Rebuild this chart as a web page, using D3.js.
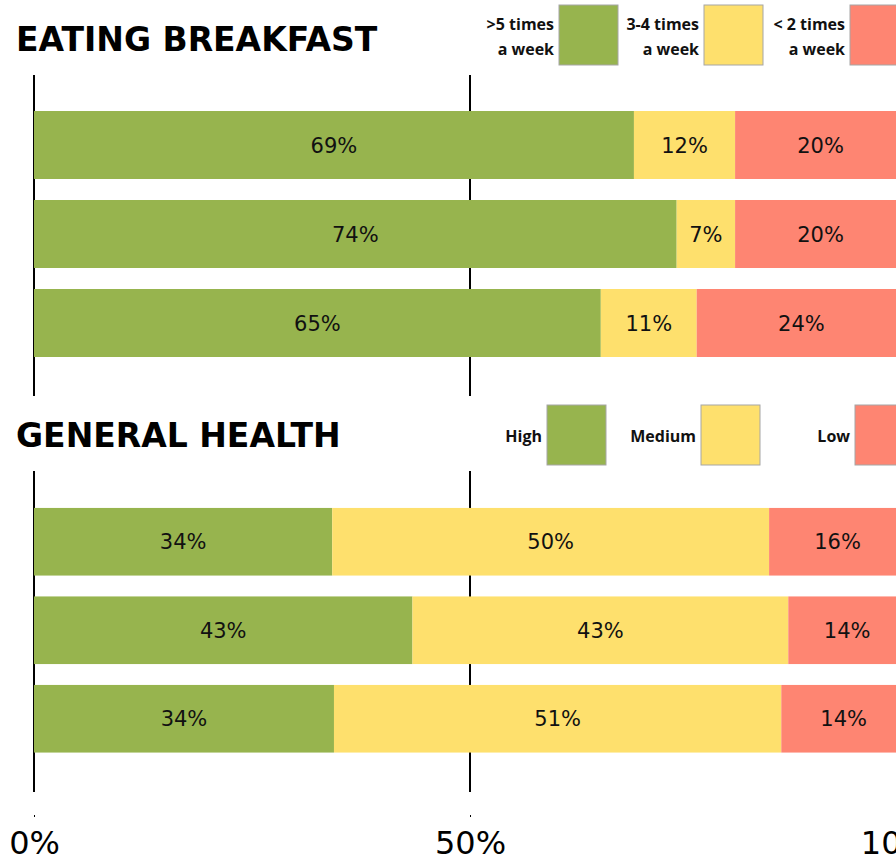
<!DOCTYPE html>
<html>
<head>
<meta charset="utf-8">
<script src="https://cdn.jsdelivr.net/npm/d3@7"></script>
<style>
  body { margin: 0; background: #fff; }
  #chart { width: 896px; height: 860px; overflow: hidden; }
</style>
</head>
<body>
<div id="chart"></div>
<script>
// categories and series (percent)
var colors = ["#97b44e", "#fee06d", "#fe8572"];

var breakfastKeys = [">5 times a week", "3-4 times a week", "< 2 times a week"];
var breakfastOften = [68.8, 73.7, 65.0];
var breakfastSome = [11.6, 6.7, 11.0];
var breakfastRare = [19.6, 19.6, 24.0];

var healthKeys = ["High", "Medium", "Low"];
var healthHigh = [34.2, 43.4, 34.4];
var healthMedium = [50.1, 43.1, 51.3];
var healthLow = [15.7, 13.5, 14.3];

var tickValues = [0, 50, 100];

var width = 896, height = 860;

var svg = d3.select("#chart").append("svg")
  .attr("width", width)
  .attr("height", height);

// 0% at x=34, 50% at x=470 -> 100% falls just past the right edge
var x = d3.scaleLinear().domain([0, 100]).range([34, 906]);

function section(opts){
  var rows = opts.series[0].map(function(_, i){
    return opts.series.map(function(s){ return s[i]; });
  });

  var y = d3.scaleBand()
    .domain(d3.range(rows.length))
    .range(opts.range)
    .paddingInner(21/89)
    .paddingOuter(21/89/2);

  var g = svg.append("g");

  // vertical reference lines at 0% and 50%
  g.selectAll("line.grid")
    .data(tickValues.slice(0, 2))
    .enter().append("line")
    .attr("x1", function(d){ return x(d); })
    .attr("x2", function(d){ return x(d); })
    .attr("y1", opts.lineTop)
    .attr("y2", opts.lineBottom)
    .attr("stroke", "#000")
    .attr("stroke-width", 2);

  var bars = g.selectAll("g.bar")
    .data(rows)
    .enter().append("g")
    .attr("transform", function(d, i){ return "translate(0," + y(i) + ")"; });

  bars.each(function(row){
    var acc = 0;
    var segs = row.map(function(v, k){
      var s = {start: acc, value: v, k: k};
      acc += v;
      return s;
    });
    var b = d3.select(this);
    b.selectAll("rect")
      .data(segs)
      .enter().append("rect")
      .attr("x", function(d){ return x(d.start); })
      .attr("width", function(d){ return x(d.start + d.value) - x(d.start); })
      .attr("height", y.bandwidth())
      .attr("fill", function(d){ return colors[d.k]; });
    b.selectAll("text")
      .data(segs)
      .enter().append("text")
      .attr("x", function(d){ return x(d.start + d.value / 2); })
      .attr("y", y.bandwidth() / 2)
      .attr("dy", "0.36em")
      .attr("text-anchor", "middle")
      .style("font-family", "'DejaVu Sans', Verdana, sans-serif")
      .style("font-size", "21px")
      .style("fill", "#111")
      .text(function(d){ return Math.round(d.value) + "%"; });
  });

  // title
  svg.append("text")
    .attr("x", 16)
    .attr("y", opts.titleY)
    .style("font-family", "'DejaVu Sans', Verdana, sans-serif")
    .style("font-weight", "bold")
    .style("font-size", "33px")
    .style("fill", "#000")
    .text(opts.title);

  // legend
  var leg = svg.append("g").selectAll("g")
    .data(opts.keys)
    .enter().append("g")
    .attr("transform", function(d, i){ return "translate(" + opts.legendX[i] + "," + opts.legendY + ")"; });

  leg.append("rect")
    .attr("width", 59)
    .attr("height", 60)
    .attr("fill", function(d, i){ return colors[i]; })
    .attr("stroke", "#a6a6a6")
    .attr("stroke-width", 1);

  leg.each(function(d){
    var lines = opts.wrap ? [d.replace(/ a week$/, ""), "a week"] : [d];
    d3.select(this).selectAll("text")
      .data(lines)
      .enter().append("text")
      .attr("x", -5)
      .attr("y", function(t, j){ return lines.length > 1 ? 25 + j * 25 : 37; })
      .attr("text-anchor", "end")
      .style("font-family", "'Open Sans', sans-serif")
      .style("font-weight", "bold")
      .style("font-size", "16px")
      .style("fill", "#111")
      .text(function(t){ return t; });
  });
}

section({
  title: "EATING BREAKFAST",
  titleY: 51,
  keys: breakfastKeys,
  series: [breakfastOften, breakfastSome, breakfastRare],
  range: [100.5, 367.5],
  lineTop: 75,
  lineBottom: 396,
  legendX: [559, 704, 850],
  legendY: 5,
  wrap: true
});

section({
  title: "GENERAL HEALTH",
  titleY: 447,
  keys: healthKeys,
  series: [healthHigh, healthMedium, healthLow],
  range: [497.5, 763],
  lineTop: 471,
  lineBottom: 792,
  legendX: [547, 701, 855],
  legendY: 405,
  wrap: false
});

// bottom axis: tiny tick marks and large labels
var axis = svg.append("g")
  .attr("transform", "translate(0,815)")
  .call(d3.axisBottom(x).tickValues(tickValues).tickSize(2).tickFormat(function(d){ return d + "%"; }));

axis.select(".domain").remove();
axis.selectAll(".tick line").attr("stroke", "#000");
axis.selectAll(".tick text")
  .attr("y", 39)
  .attr("dy", 0)
  .style("font-family", "'DejaVu Sans', Verdana, sans-serif")
  .style("font-size", "32px")
  .style("fill", "#000");
</script>
</body>
</html>
